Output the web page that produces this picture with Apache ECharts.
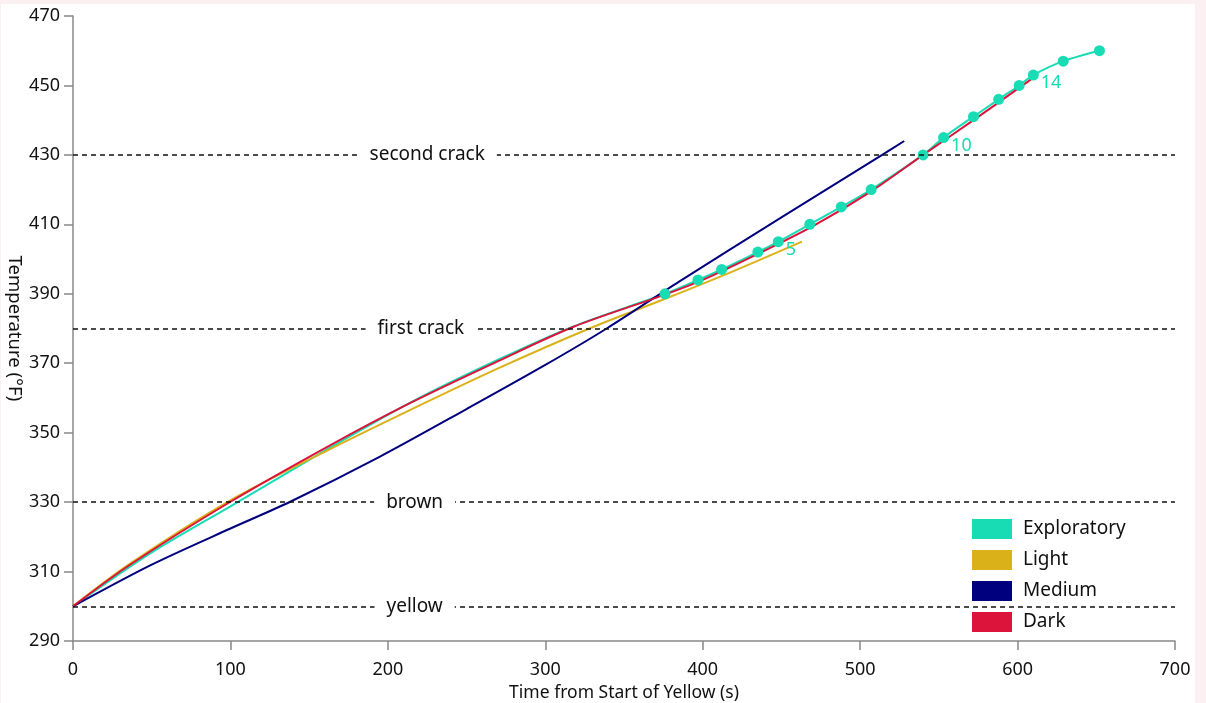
<!DOCTYPE html>
<html>
<head>
<meta charset="utf-8">
<script src="https://cdn.jsdelivr.net/npm/echarts@6/dist/echarts.min.js"></script>
<style>
  html, body { margin: 0; padding: 0; background: #fcf0f2; width: 1206px; height: 703px; overflow: hidden; }
  #chart { position: absolute; left: 1px; top: 4px; width: 1194px; height: 699px; background: #ffffff; }
</style>
</head>
<body>
<div id="chart"></div>
<script>
// ---- data ----
const xTicks = [0, 100, 200, 300, 400, 500, 600, 700];
const yTicks = [290, 310, 330, 350, 370, 390, 410, 430, 450, 470];

const thresholdTemps = [300, 330, 380, 430];
const thresholdNames = ['yellow', 'brown', 'first crack', 'second crack'];
const thresholdLabelTime = [217, 217, 221, 225];

// Exploratory: early trace (no markers) then measured runs (markers)
const exploratoryLeadTime = [0, 50, 100, 163, 214, 270, 318];
const exploratoryLeadTemp = [300, 315.5, 328.8, 345.6, 358.6, 371, 380.6];
const exploratoryTime = [376, 397, 412, 435, 448, 468, 488, 507, 540, 553, 572, 588, 601, 610, 629, 652];
const exploratoryTemp = [390, 394, 397, 402, 405, 410, 415, 420, 430, 435, 441, 446, 450, 453, 457, 460];
const exploratoryLabeledRuns = [5, 10, 14];

const lightTime = [0, 36, 100, 163, 214, 270, 328, 377, 420, 463];
const lightTemp = [300, 312.2, 330.5, 345.2, 356.5, 368.5, 380, 388.7, 396.6, 405];

const mediumTime = [0, 50, 100, 138, 195, 250, 300, 339, 385, 450, 514, 528];
const mediumTemp = [300, 312, 322.4, 330.1, 343.1, 356.8, 369.5, 380, 393.5, 412, 430, 434];

const darkTime = [0, 36, 100, 163, 214, 270, 318, 375, 400, 435, 470, 507, 540, 572, 600, 610];
const darkTemp = [300, 311.9, 330.1, 346.3, 358.5, 370.6, 380.5, 389.6, 394, 401.5, 409.5, 419.5, 430, 440, 449, 452.2];

const colors = { Exploratory: '#17dcb4', Light: '#dbb119', Medium: '#00007f', Dark: '#dc143c' };
const FONT = '"Noto Sans", "Open Sans", sans-serif';

const zip = (a, b) => a.map((v, i) => [v, b[i]]);

const chart = echarts.init(document.getElementById('chart'), null, { renderer: 'canvas' });

const option = {
  animation: false,
  textStyle: { fontFamily: FONT },
  grid: { left: 72, right: 20, top: 12, bottom: 62, containLabel: false, outerBoundsMode: 'none' },
  legend: {
    data: ['Exploratory', 'Light', 'Medium', 'Dark'],
    orient: 'vertical',
    left: 971,
    top: 515,
    padding: 0,
    icon: 'rect',
    itemWidth: 40,
    itemHeight: 20,
    itemGap: 11,
    textStyle: { fontFamily: FONT, fontSize: 19, color: '#111', lineHeight: 20, padding: [0, 0, 0, 6] },
    selectedMode: false
  },
  xAxis: {
    type: 'value',
    min: 0, max: 700, interval: 100,
    name: 'Time from Start of Yellow (s)',
    nameLocation: 'middle',
    nameGap: 43,
    nameMoveOverlap: false,
    nameTextStyle: { fontFamily: FONT, fontSize: 17.5, color: '#111' },
    axisLine: { show: true, lineStyle: { color: '#888', width: 1.5 } },
    axisTick: { show: true, length: 9, lineStyle: { color: '#888', width: 1.5 } },
    axisLabel: { fontFamily: FONT, fontSize: 18, color: '#111', margin: 20 },
    splitLine: { show: false }
  },
  yAxis: {
    type: 'value',
    min: 290, max: 470, interval: 10,
    name: 'Temperature (°F)',
    nameLocation: 'middle',
    nameRotate: -90,
    nameGap: 49,
    nameMoveOverlap: false,
    nameTextStyle: { fontFamily: FONT, fontSize: 18.5, color: '#111' },
    axisLine: { show: true, lineStyle: { color: '#888', width: 1.5 } },
    axisTick: { show: true, length: 9, customValues: yTicks, lineStyle: { color: '#888', width: 1.5 } },
    axisLabel: { fontFamily: FONT, fontSize: 18, color: '#111', margin: 13, customValues: yTicks },
    splitLine: { show: false }
  },
  series: [
    {
      name: 'thresholds',
      type: 'scatter',
      z: 6,
      symbolSize: 0,
      silent: true,
      itemStyle: { opacity: 1 },
      data: thresholdTemps.map((t, i) => ({ value: [thresholdLabelTime[i], t], name: thresholdNames[i] })),
      label: {
        show: true,
        position: 'inside',
        formatter: p => p.name,
        fontFamily: FONT,
        fontSize: 19,
        color: '#111',
        backgroundColor: '#ffffff',
        padding: [2, 12, 2, 12]
      },
      markLine: {
        silent: true,
        symbol: ['none', 'none'],
        label: { show: false },
        lineStyle: { color: '#111', type: [5, 4], width: 1.5, opacity: 1 },
        data: thresholdTemps.map(t => ({ yAxis: t }))
      },
      tooltip: { show: false }
    },
    {
      name: 'Exploratory',
      type: 'line',
      z: 2,
      smooth: 0.3,
      showSymbol: false,
      symbol: 'none',
      color: colors.Exploratory,
      lineStyle: { color: colors.Exploratory, width: 2 },
      data: zip(exploratoryLeadTime, exploratoryLeadTemp).concat(zip(exploratoryTime, exploratoryTemp))
    },
    {
      name: 'Light',
      type: 'line',
      z: 2,
      smooth: 0.3,
      symbol: 'none',
      color: colors.Light,
      lineStyle: { color: colors.Light, width: 2 },
      data: zip(lightTime, lightTemp)
    },
    {
      name: 'Medium',
      type: 'line',
      z: 2,
      smooth: 0.3,
      symbol: 'none',
      color: colors.Medium,
      lineStyle: { color: colors.Medium, width: 2 },
      data: zip(mediumTime, mediumTemp)
    },
    {
      name: 'Dark',
      type: 'line',
      z: 3,
      smooth: 0.3,
      symbol: 'none',
      color: colors.Dark,
      lineStyle: { color: colors.Dark, width: 2 },
      data: zip(darkTime, darkTemp)
    },
    {
      name: 'Exploratory',
      type: 'scatter',
      z: 4,
      symbol: 'circle',
      symbolSize: 11,
      color: colors.Exploratory,
      itemStyle: { color: colors.Exploratory, opacity: 1 },
      data: exploratoryTime.map((t, i) => ({
        value: [t, exploratoryTemp[i]],
        run: i + 1
      })),
      label: {
        show: true,
        position: 'right',
        distance: 2,
        offset: [0, 8],
        fontFamily: FONT,
        fontSize: 18,
        color: colors.Exploratory,
        formatter: p => exploratoryLabeledRuns.indexOf(p.dataIndex + 1) >= 0 ? String(p.dataIndex + 1) : ''
      }
    }
  ]
};

chart.setOption(option);
</script>
</body>
</html>
